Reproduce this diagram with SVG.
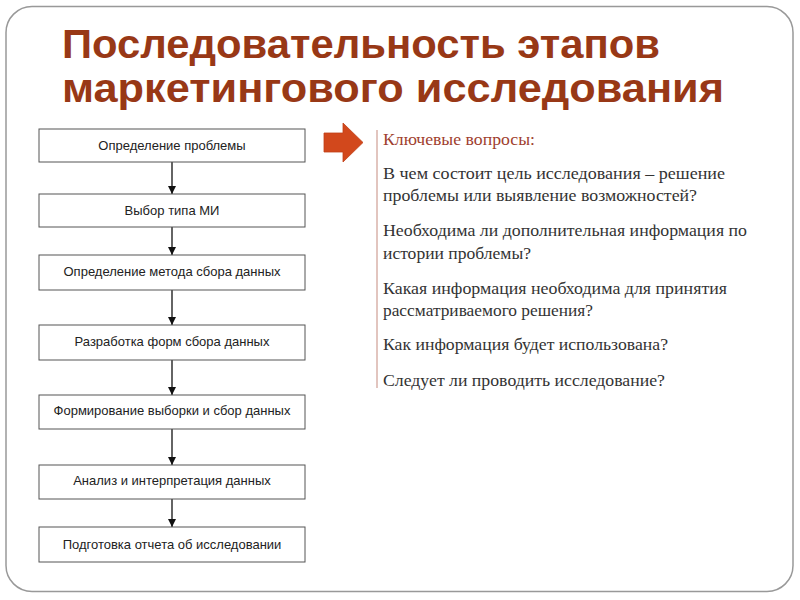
<svg xmlns="http://www.w3.org/2000/svg" width="800" height="600" viewBox="0 0 800 600">
<defs>
<style>
.title{font-family:"Liberation Sans",Arial,sans-serif;font-weight:bold;font-size:40px;fill:#983816}
.box{fill:#ffffff;stroke:#555555;stroke-width:1}
.bt{font-family:"Liberation Sans",Arial,sans-serif;font-size:13px;fill:#222222;text-anchor:middle}
.q{font-family:"Liberation Serif","Times New Roman",serif;font-size:17px;fill:#333333}
.qh{font-family:"Liberation Serif","Times New Roman",serif;font-size:17px;fill:#a0402e}
.conn{stroke:#111111;stroke-width:1.3;fill:none}
</style>
<marker id="ah" viewBox="0 0 10 10" refX="10" refY="5" markerWidth="8" markerHeight="8" markerUnits="userSpaceOnUse" orient="auto">
<path d="M0,0 L10,5 L0,10 Z" fill="#111111"/>
</marker>
</defs>
<rect width="800" height="600" fill="#ffffff"/>
<rect x="6" y="6.5" width="787" height="585" rx="26" ry="26" fill="none" stroke="#999999" stroke-width="1.5"/>
<text class="title" x="62" y="58" textLength="598" lengthAdjust="spacingAndGlyphs">Последовательность этапов</text>
<text class="title" x="62" y="102" textLength="662" lengthAdjust="spacingAndGlyphs">маркетингового исследования</text>
<g id="connectors">
<line class="conn" x1="172" y1="162" x2="172" y2="194" marker-end="url(#ah)"/>
<line class="conn" x1="172" y1="227" x2="172" y2="255" marker-end="url(#ah)"/>
<line class="conn" x1="172" y1="290" x2="172" y2="325" marker-end="url(#ah)"/>
<line class="conn" x1="172" y1="360" x2="172" y2="395" marker-end="url(#ah)"/>
<line class="conn" x1="172" y1="429" x2="172" y2="465" marker-end="url(#ah)"/>
<line class="conn" x1="172" y1="499" x2="172" y2="527" marker-end="url(#ah)"/>
</g>
<g id="n1"><rect class="box" x="39" y="129" width="266" height="33"/><text class="bt" x="172" y="150">Определение проблемы</text></g>
<g id="n2"><rect class="box" x="39" y="194" width="266" height="33"/><text class="bt" x="172" y="215">Выбор типа МИ</text></g>
<g id="n3"><rect class="box" x="39" y="255" width="266" height="35"/><text class="bt" x="172" y="276">Определение метода сбора данных</text></g>
<g id="n4"><rect class="box" x="39" y="325" width="266" height="35"/><text class="bt" x="172" y="346">Разработка форм сбора данных</text></g>
<g id="n5"><rect class="box" x="39" y="395" width="266" height="34"/><text class="bt" x="172" y="415">Формирование выборки и сбор данных</text></g>
<g id="n6"><rect class="box" x="39" y="465" width="266" height="34"/><text class="bt" x="172" y="485">Анализ и интерпретация данных</text></g>
<g id="n7"><rect class="box" x="39" y="527" width="266" height="35"/><text class="bt" x="172" y="549">Подготовка отчета об исследовании</text></g>
<g id="red-arrow"><path d="M324,133 L343,133 L343,123 L363,142.5 L343,162 L343,152 L324,152 Z" fill="#d2481c" stroke="#c04018" stroke-width="0.8"/></g>
<g id="questions">
<line x1="377" y1="130" x2="377" y2="388" stroke="#d9b2aa" stroke-width="1.5"/>
<text class="qh" x="383" y="145" textLength="152" lengthAdjust="spacingAndGlyphs">Ключевые вопросы:</text>
<text class="q" x="383" y="179" textLength="342" lengthAdjust="spacingAndGlyphs">В чем состоит цель исследования – решение</text>
<text class="q" x="383" y="201" textLength="314" lengthAdjust="spacingAndGlyphs">проблемы или выявление возможностей?</text>
<text class="q" x="383" y="236" textLength="364" lengthAdjust="spacingAndGlyphs">Необходима ли дополнительная информация по</text>
<text class="q" x="383" y="259" textLength="148" lengthAdjust="spacingAndGlyphs">истории проблемы?</text>
<text class="q" x="383" y="294" textLength="344" lengthAdjust="spacingAndGlyphs">Какая информация необходима для принятия</text>
<text class="q" x="383" y="316" textLength="210" lengthAdjust="spacingAndGlyphs">рассматриваемого решения?</text>
<text class="q" x="383" y="350" textLength="285" lengthAdjust="spacingAndGlyphs">Как информация будет использована?</text>
<text class="q" x="383" y="386" textLength="282" lengthAdjust="spacingAndGlyphs">Следует ли проводить исследование?</text>
</g>
</svg>
